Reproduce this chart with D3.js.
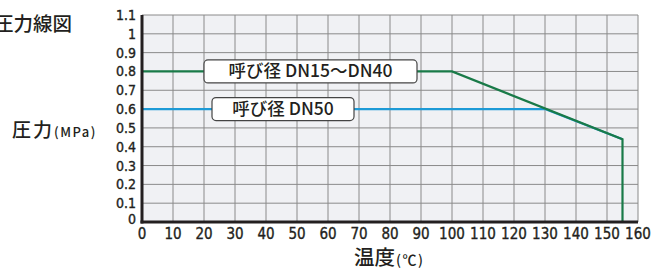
<!DOCTYPE html>
<html>
<head>
<meta charset="utf-8">
<script src="https://cdn.jsdelivr.net/npm/d3@7"></script>
<style>
  body{margin:0;background:#fff;}
  text{font-family:"Liberation Sans Narrow","DejaVu Sans Condensed","Noto Sans CJK JP",sans-serif;fill:#231f20;}
  .tick{stroke:#231f20;stroke-width:0.35;}
  .jp{font-family:"Noto Sans CJK JP","Noto Sans",sans-serif;font-weight:500;}
</style>
</head>
<body>
<script>
// data
var xTicks = [0,10,20,30,40,50,60,70,80,90,100,110,120,130,140,150,160];
var yTicks = [0,0.1,0.2,0.3,0.4,0.5,0.6,0.7,0.8,0.9,1,1.1];
var lineSmall = [[0,0.8],[100,0.8],[155,0.44],[155,0]];   // DN15~DN40
var lineLarge = [[0,0.6],[130,0.6],[155,0.44]];            // DN50
var labelSmall = "呼び径 DN15〜DN40";
var labelLarge = "呼び径 DN50";

var W = 653, H = 270;
var pL = 142, pR = 638, pT = 15, pB = 222;

var svg = d3.select("body").append("svg").attr("width",W).attr("height",H);

var x = d3.scaleLinear().domain([0,160]).range([pL,pR]);
var y = d3.scaleLinear().domain([0,1.1]).range([pB,pT]);

// plot background
svg.append("rect").attr("x",pL).attr("y",pT)
  .attr("width",pR-pL).attr("height",pB-pT).attr("fill","#f0f1f4");

// grid
svg.append("g").selectAll("line").data(xTicks.slice(1)).enter().append("line")
  .attr("x1",function(d){return x(d);}).attr("x2",function(d){return x(d);})
  .attr("y1",pT).attr("y2",pB).attr("stroke","#8a8a8a").attr("stroke-width",1);
svg.append("g").selectAll("line").data(yTicks.slice(1)).enter().append("line")
  .attr("x1",pL).attr("x2",pR)
  .attr("y1",function(d){return y(d);}).attr("y2",function(d){return y(d);})
  .attr("stroke","#8a8a8a").attr("stroke-width",1);

var line = d3.line().x(function(d){return x(d[0]);}).y(function(d){return y(d[1]);});

svg.append("path").datum(lineLarge).attr("d",line)
  .attr("fill","none").attr("stroke","#1d9ad6").attr("stroke-width",2.2);
svg.append("path").datum(lineSmall).attr("d",line)
  .attr("fill","none").attr("stroke","#197a48").attr("stroke-width",2.2);

// axes
svg.append("line").attr("x1",pL).attr("x2",pL).attr("y1",pT).attr("y2",pB+1.5)
  .attr("stroke","#231f20").attr("stroke-width",3);
svg.append("line").attr("x1",pL-1.5).attr("x2",pR).attr("y1",pB).attr("y2",pB)
  .attr("stroke","#231f20").attr("stroke-width",3);

// tick labels
svg.append("g").selectAll("text").data(yTicks).enter().append("text")
  .attr("class","tick")
  .attr("x",pL-6).attr("y",function(d){return y(d)+(d===0?2:5);})
  .attr("text-anchor","end").attr("font-size",14)
  .text(function(d){return d;});
svg.append("g").selectAll("text").data(xTicks).enter().append("text")
  .attr("class","tick")
  .attr("x",function(d){return x(d);}).attr("y",pB+17)
  .attr("text-anchor","middle").attr("font-size",15)
  .text(function(d){return d;});

// label boxes
function labelBox(txt, x0, x1, yc){
  svg.append("rect").attr("x",x0).attr("y",yc-11.5).attr("width",x1-x0).attr("height",23)
    .attr("rx",4).attr("fill","#fff").attr("stroke","#444").attr("stroke-width",1.2);
  svg.append("text").attr("class","jp").attr("x",(x0+x1)/2).attr("y",yc+6)
    .attr("text-anchor","middle").attr("font-size",17.5).text(txt);
}
labelBox(labelSmall, 204, 417, y(0.8));
labelBox(labelLarge, 212, 354, y(0.6));

// titles
svg.append("text").attr("class","jp").attr("x",-6).attr("y",31).attr("font-size",19.5).text("圧力線図");
var yl = svg.append("text").attr("class","jp").attr("x",12).attr("y",137).attr("font-size",19);
yl.append("tspan").attr("letter-spacing",2).text("圧力");
yl.append("tspan").attr("font-size",13).attr("letter-spacing",1.5).text("(MPa)");
var xl = svg.append("text").attr("class","jp").attr("x",354).attr("y",265).attr("font-size",20.5);
xl.append("tspan").text("温度");
xl.append("tspan").attr("font-size",14).attr("dx",1).attr("letter-spacing",1.5).text("(℃)");
</script>
</body>
</html>
